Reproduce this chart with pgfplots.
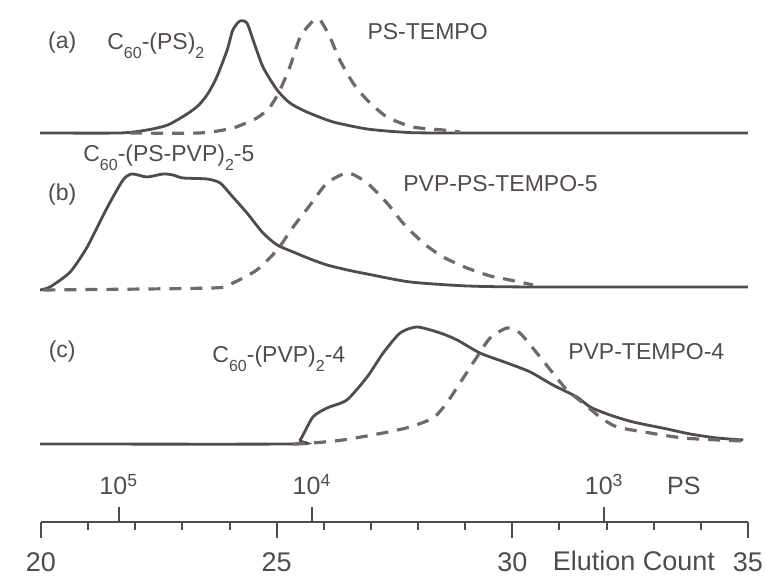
\documentclass[border=0pt]{standalone}
\usepackage{fontspec}
\setmainfont{Liberation Sans}
\usepackage{pgfplots}
\pgfplotsset{compat=1.18}
\definecolor{ink}{RGB}{82,74,78}
\definecolor{dashc}{RGB}{112,104,108}
\newcommand{\sub}[1]{\raisebox{-4.2pt}{\fontsize{8}{8}\selectfont #1}}
\begin{document}
\begin{tikzpicture}
\begin{axis}[
  scale only axis, width=353.5pt, height=261pt,
  xmin=20, xmax=35, ymin=55, ymax=577,
  axis x line*=bottom, axis y line=none, ytick=\empty,
  clip=false,
  xtick={20,25,30,35},
  minor xtick={21,22,23,24,26,27,28,29,31,32,33,34},
  tick align=outside,
  major tick length=8pt, minor tick length=4pt,
  axis line style={ink, line width=1pt},
  tick style={ink, line width=1pt},
  /pgf/number format/assume math mode=true,
  xticklabel style={font=\fontsize{13.5}{16}\selectfont, text=ink, yshift=-4pt},
  extra x ticks={21.65,25.75,31.95},
  extra x tick labels={},
  extra x tick style={tick align=inside, major tick length=7.5pt},
  every axis plot/.append style={smooth, tension=0.4},
]
% (a) C60-(PS)2
\addplot[ink, line width=1.4pt] coordinates {
(19.98,444) (21.68,444) (22.25,447) (22.69,452) (23.10,463) (23.35,472) (23.55,484) (23.73,500)
(23.95,527) (24.07,547) (24.22,556) (24.37,554) (24.50,537) (24.71,510) (25.01,487)
(25.28,474) (25.64,465) (26.20,455) (26.92,448) (27.62,445) (28.5,444) (35.0,444)};
% (a) PS-TEMPO
\addplot[dashc, line width=1.6pt, dash pattern=on 6pt off 4.5pt] coordinates {
(21.89,444) (23.37,444) (24.07,449) (24.58,459) (24.86,470) (25.07,487) (25.28,510)
(25.50,540) (25.77,556) (25.92,557) (26.13,540) (26.34,517) (26.62,494) (26.92,477)
(27.34,460) (27.89,450) (28.53,447) (28.89,445)};
% (b) C60-(PS-PVP)2-5
\addplot[ink, line width=1.4pt] coordinates {
(19.98,287) (20.19,290) (20.62,305) (20.98,330) (21.40,369) (21.74,397) (21.93,403)
(22.25,400) (22.59,403) (22.80,402) (23.01,399) (23.52,398) (23.80,394) (24.07,380)
(24.37,364) (24.71,344) (25.01,332) (25.35,325) (25.71,318) (26.07,312) (26.50,307)
(26.92,303) (27.83,295) (29.04,291) (30.44,290) (35.0,290)};
% (b) PVP-PS-TEMPO-5
\addplot[dashc, line width=1.6pt, dash pattern=on 6pt off 4.5pt] coordinates {
(20.05,287) (23.65,289) (24.07,294) (24.58,307) (25.01,327) (25.35,350) (25.71,372)
(26.07,394) (26.51,404) (26.92,394) (27.34,374) (27.68,354) (28.11,334) (28.53,320)
(29.04,309) (29.53,301) (29.95,297) (30.44,292)};
% (c) C60-(PVP)2-4
\addplot[ink, line width=1.4pt] coordinates {
(19.98,133) (25.35,133) (25.50,137) (25.77,160) (26.07,169) (26.49,177) (26.92,200)
(27.26,224) (27.62,244) (27.98,250) (28.47,244) (28.83,237) (29.31,224) (29.89,214)
(30.38,205) (30.86,192) (31.37,180) (31.65,170) (32.07,162) (32.56,155) (33.28,148)
(33.77,143) (34.34,139) (34.90,137)};
% (c) PVP-TEMPO-4
\addplot[dashc, line width=1.6pt, dash pattern=on 6pt off 4.5pt] coordinates {
(25.35,133) (25.77,134) (26.41,137) (27.26,144) (27.83,150) (28.32,159) (28.61,174)
(28.89,194) (29.25,220) (29.53,239) (29.89,249) (30.16,244) (30.52,224) (30.86,204)
(31.16,187) (31.50,174) (31.86,160) (32.22,150) (32.92,144) (33.62,139) (34.34,137)
(34.90,136)};

\tikzset{lab/.style={font=\fontsize{11.5}{14}\selectfont, text=ink, inner sep=0pt}}
\node[lab, anchor=center] at (axis cs:20.45,534) {(a)};
\node[lab, anchor=base west] at (axis cs:21.40,527) {C\sub{60}-(PS)\sub{2}};
\node[lab, anchor=base west] at (axis cs:26.92,537) {PS-TEMPO};
\node[lab, anchor=center] at (axis cs:20.45,382) {(b)};
\node[lab, anchor=base west] at (axis cs:20.89,415) {C\sub{60}-(PS-PVP)\sub{2}-5};
\node[lab, anchor=base west] at (axis cs:27.68,385) {PVP-PS-TEMPO-5};
\node[lab, anchor=center] at (axis cs:20.45,225) {(c)};
\node[lab, anchor=base west] at (axis cs:23.63,214) {C\sub{60}-(PVP)\sub{2}-4};
\node[lab, anchor=base west] at (axis cs:31.18,217) {PVP-TEMPO-4};
\tikzset{big/.style={font=\fontsize{12.5}{15}\selectfont, text=ink, inner sep=0pt}}
\node[big, anchor=base] at (axis cs:21.65,82) {10\textsuperscript{5}};
\node[big, anchor=base] at (axis cs:25.75,82) {10\textsuperscript{4}};
\node[big, anchor=base] at (axis cs:31.95,82) {10\textsuperscript{3}};
\node[big, anchor=base] at (axis cs:33.64,82) {PS};
\node[font=\fontsize{13.5}{16}\selectfont, text=ink, inner sep=0pt, anchor=base] at (axis cs:32.58,6) {Elution Count};
\coordinate (BL) at (axis cs:19.13,0);
\coordinate (TR) at (axis cs:35.383,577);
\end{axis}
\pgfresetboundingbox
\path[use as bounding box] (BL) rectangle (TR);
\end{tikzpicture}
\end{document}
